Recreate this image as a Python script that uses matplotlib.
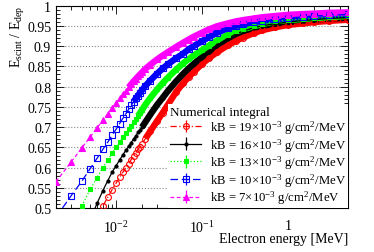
import numpy as np
import matplotlib.pyplot as plt
from matplotlib.ticker import MultipleLocator, LogLocator, FixedLocator, FixedFormatter, FuncFormatter, NullFormatter

plt.rcParams['font.family'] = ['Liberation Serif', 'DejaVu Serif']
plt.rcParams['mathtext.fontset'] = 'custom'
plt.rcParams['mathtext.rm'] = 'Liberation Serif'
plt.rcParams['mathtext.it'] = 'Liberation Serif:italic'

nan = np.nan

# electron energy [MeV]
energy = [0.002, 0.003, 0.004, 0.005, 0.006, 0.007, 0.008, 0.009, 0.010, 0.011,
          0.012, 0.013, 0.014, 0.015, 0.016, 0.017, 0.018, 0.019, 0.020,
          0.022, 0.025, 0.03, 0.035, 0.04, 0.05, 0.06, 0.07, 0.08, 0.1, 0.12,
          0.15, 0.2, 0.25, 0.3, 0.4, 0.5, 0.7, 1, 1.5, 2, 3, 5]

# E_scint / E_dep, one list per kB
kb19 = [nan, nan, nan, nan, 0.480, 0.505, 0.527, 0.546, 0.562, 0.576,
        0.589, 0.600, 0.610, 0.620, 0.629, 0.637, 0.645, 0.652, 0.659,
        0.672, 0.690, 0.715, 0.736, 0.755, 0.787, 0.808, 0.824, 0.836, 0.856, 0.870,
        0.885, 0.902, 0.913, 0.921, 0.932, 0.939, 0.946, 0.952, 0.956, 0.959, 0.962, 0.965]
kb16 = [nan, nan, nan, 0.470, 0.512, 0.543, 0.568, 0.589, 0.605, 0.619,
        0.632, 0.643, 0.653, 0.662, 0.671, 0.679, 0.687, 0.694, 0.700,
        0.713, 0.731, 0.755, 0.773, 0.789, 0.813, 0.831, 0.845, 0.856, 0.873, 0.886,
        0.903, 0.919, 0.930, 0.937, 0.945, 0.950, 0.955, 0.959, 0.963, 0.965, 0.968, 0.970]
kb13 = [nan, nan, 0.506, 0.547, 0.575, 0.600, 0.619, 0.636, 0.650, 0.663,
        0.675, 0.685, 0.695, 0.704, 0.713, 0.721, 0.728, 0.735, 0.742,
        0.756, 0.772, 0.793, 0.809, 0.822, 0.842, 0.857, 0.868, 0.877, 0.890, 0.901,
        0.914, 0.928, 0.936, 0.942, 0.949, 0.954, 0.961, 0.964, 0.967, 0.969, 0.971, 0.974]
kb10 = [0.478, 0.531, 0.567, 0.598, 0.623, 0.645, 0.663, 0.680, 0.695, 0.709,
        0.722, 0.733, 0.744, 0.754, 0.763, 0.771, 0.778, 0.785, 0.791,
        0.802, 0.815, 0.832, 0.845, 0.855, 0.870, 0.881, 0.892, 0.900, 0.912, 0.922,
        0.933, 0.944, 0.950, 0.954, 0.959, 0.962, 0.966, 0.969, 0.972, 0.974, 0.976, 0.978]
kb7 = [0.566, 0.614, 0.649, 0.676, 0.698, 0.717, 0.733, 0.747, 0.760, 0.771,
       0.781, 0.790, 0.798, 0.806, 0.813, 0.819, 0.825, 0.830, 0.835,
       0.844, 0.854, 0.867, 0.877, 0.885, 0.898, 0.908, 0.916, 0.923, 0.933, 0.941,
       0.949, 0.956, 0.961, 0.964, 0.968, 0.971, 0.974, 0.977, 0.979, 0.980, 0.982, 0.983]

labels = [r'kB = 19$\times$10$^{-3}$ g/cm$^{2}$/MeV',
          r'kB = 16$\times$10$^{-3}$ g/cm$^{2}$/MeV',
          r'kB = 13$\times$10$^{-3}$ g/cm$^{2}$/MeV',
          r'kB = 10$\times$10$^{-3}$ g/cm$^{2}$/MeV',
          r'kB = 7$\times$10$^{-3}$ g/cm$^{2}$/MeV']

series = [kb19, kb16, kb13, kb10, kb7]
colors = ['#ff0000', '#000000', '#00ff00', '#0000ff', '#ff00ff']
styles = [(0, (5, 2, 1, 2)), '-', ':', (0, (6, 3)), (0, (3, 2))]
markers = ['o', 'o', 's', 's', '^']
msizes = [4.2, 2.2, 3.5, 3.8, 3.8]
filled = [False, True, True, False, True]
band_from = [0.022, 0.02, 0.018, 0.016, 0.014]   # where the points merge into a band

fig = plt.figure(figsize=(3.74, 2.53), dpi=100)
ax = fig.add_axes([56 / 374, 1 - 209.3 / 253, 292 / 374, 202.8 / 253])

e = np.array(energy)
handles = []
for vals, c, ls, m, ms, f, lab, b0 in zip(series, colors, styles, markers, msizes,
                                          filled, labels, band_from):
    v = np.array(vals)
    band = e >= b0
    ax.plot(e[band], v[band], color=c, lw=4.6, solid_capstyle='butt', zorder=2)
    h = ax.errorbar(e, v, yerr=np.zeros(len(v)), color=c, ls=ls, lw=0.9,
                    marker=m, ms=ms, mfc=c if f else 'none', mec=c, mew=0.8,
                    elinewidth=0.9, label=lab, zorder=3)
    handles.append(h)

ax.set_xscale('log')
ax.set_xlim(0.002, 5)
ax.set_ylim(0.5, 1.0)

ax.xaxis.set_major_locator(FixedLocator([0.01, 0.1, 1]))
ax.xaxis.set_major_formatter(FixedFormatter([r'10$^{-2}$', r'10$^{-1}$', '1']))
ax.xaxis.set_minor_locator(LogLocator(base=10, subs=np.arange(2, 10), numticks=20))
ax.xaxis.set_minor_formatter(NullFormatter())
ax.yaxis.set_major_locator(MultipleLocator(0.05))
ax.yaxis.set_minor_locator(MultipleLocator(0.01))
ax.yaxis.set_major_formatter(FuncFormatter(lambda v, p: f'{v:g}'))

ax.tick_params(which='both', direction='in', top=True, right=True, labelsize=10, width=0.6)
ax.tick_params(which='major', length=6)
ax.tick_params(which='minor', length=3)
ax.tick_params(axis='x', which='major', pad=8)
ax.yaxis.grid(True, which='major', ls=':', color='#888888', lw=0.8)
ax.set_axisbelow(True)
for sp in ax.spines.values():
    sp.set_linewidth(0.8)

ax.set_xlabel('Electron energy [MeV]', fontsize=10, loc='right')
ax.xaxis.set_label_coords(1.0, -0.115)
ax.set_ylabel(r'E$_{\rm scint}$ / E$_{\rm dep}$', fontsize=10, loc='top')
ax.yaxis.set_label_coords(-0.098, 1.005)

leg = ax.legend(handles=handles, title='Numerical integral', alignment='left',
                loc='lower right', bbox_to_anchor=(1.0, 0.0), borderaxespad=0.0,
                fontsize=9.2, title_fontsize=9.5, frameon=True, fancybox=False,
                edgecolor='none', facecolor='white', framealpha=1.0,
                handlelength=2.4, handletextpad=0.7, labelspacing=0.0,
                borderpad=0.15)

fig.savefig('out.png', dpi=100)
